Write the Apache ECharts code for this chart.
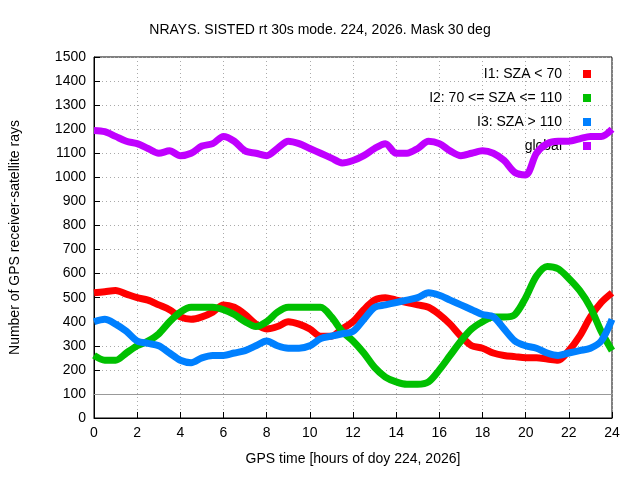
<!DOCTYPE html><html><head><meta charset="utf-8"><script src="https://cdn.jsdelivr.net/npm/echarts@6/dist/echarts.min.js"></script></head><body style="margin:0"><div id="c" style="width:640px;height:480px"></div><script>
const hours=[0,0.5,1,1.5,2,2.5,3,3.5,4,4.5,5,5.5,6,6.5,7,7.5,8,8.5,9,9.5,10,10.5,11,11.5,12,12.5,13,13.5,14,14.5,15,15.5,16,16.5,17,17.5,18,18.5,19,19.5,20,20.5,21,21.5,22,22.5,23,23.5,24];
const i1=[520,525,530,515,500,490,470,450,420,410,420,440,470,460,430,390,370,380,400,390,370,340,340,370,400,450,490,500,490,480,470,460,430,390,340,300,290,270,260,255,250,250,245,240,280,340,420,480,520];
const i2=[260,240,240,270,300,320,350,400,440,460,460,460,450,430,400,380,400,440,460,460,460,460,420,360,320,270,210,170,150,140,140,150,200,260,320,370,400,420,420,430,500,590,630,620,580,530,460,360,280];
const i3=[400,410,390,360,320,310,300,270,240,230,250,260,260,270,280,300,320,300,290,290,300,330,340,350,360,410,460,470,480,490,500,520,510,490,470,450,430,420,370,320,300,290,270,260,270,280,290,320,410];
const glob=[1195,1190,1170,1150,1140,1120,1100,1110,1090,1100,1130,1140,1170,1150,1110,1100,1090,1120,1150,1140,1120,1100,1080,1060,1070,1090,1120,1140,1100,1100,1120,1150,1140,1110,1090,1100,1110,1100,1070,1020,1010,1100,1140,1150,1150,1160,1170,1170,1200];
const names=['I1: SZA < 70','I2: 70 <= SZA <= 110','I3: SZA > 110','global'];
const colors=['#ff0000','#00c000','#0080ff','#c000ff'];
const sets=[i1,i2,i3,glob];
const ch=echarts.init(document.getElementById('c'));
const F='Liberation Sans, Arial, sans-serif';
ch.setOption({
 title:{text:'NRAYS. SISTED rt 30s mode. 224, 2026. Mask 30 deg',left:'center',top:18,textStyle:{fontFamily:F,fontSize:14,fontWeight:'normal',color:'#000'}},
 grid:{left:93,right:28,top:57,bottom:62,show:true,borderColor:'#000',borderWidth:1},
 legend:{orient:'vertical',right:44,top:62,align:'right',itemGap:10,itemWidth:8,itemHeight:8,textStyle:{fontFamily:F,fontSize:14,color:'#000',padding:[0,16,0,0]},data:names.map(n=>({name:n,icon:'rect'}))},
 xAxis:{type:'value',min:0,max:24,interval:2,name:'GPS time [hours of doy 224, 2026]',nameLocation:'middle',nameGap:34,nameTextStyle:{fontFamily:F,fontSize:14,color:'#000'},axisLine:{lineStyle:{color:'#000'}},axisTick:{inside:true,length:6,lineStyle:{color:'#000'}},axisLabel:{fontFamily:F,fontSize:14,color:'#000'},splitLine:{lineStyle:{color:'#aaa',type:[1,3]}}},
 yAxis:{type:'value',min:0,max:1500,interval:100,name:'Number of GPS receiver-satellite rays',nameLocation:'middle',nameGap:72,nameTextStyle:{fontFamily:F,fontSize:14,color:'#000'},axisLine:{show:true,lineStyle:{color:'#000'}},axisTick:{inside:true,length:6,lineStyle:{color:'#000'}},axisLabel:{fontFamily:F,fontSize:14,color:'#000',formatter:v=>String(v)},splitLine:{lineStyle:{color:'#aaa',type:[1,3]}}},
 series:sets.map((s,k)=>({name:names[k],type:'line',data:hours.map((h,j)=>[h,s[j]]),smooth:0.3,showSymbol:false,symbol:'rect',color:colors[k],lineStyle:{width:7,color:colors[k]},z:5,
   markLine:k===0?{silent:true,symbol:'none',label:{show:false},lineStyle:{color:'#999',type:'solid',width:1},data:[{yAxis:100}]}:undefined})),
 animation:false
});
</script></body></html>
